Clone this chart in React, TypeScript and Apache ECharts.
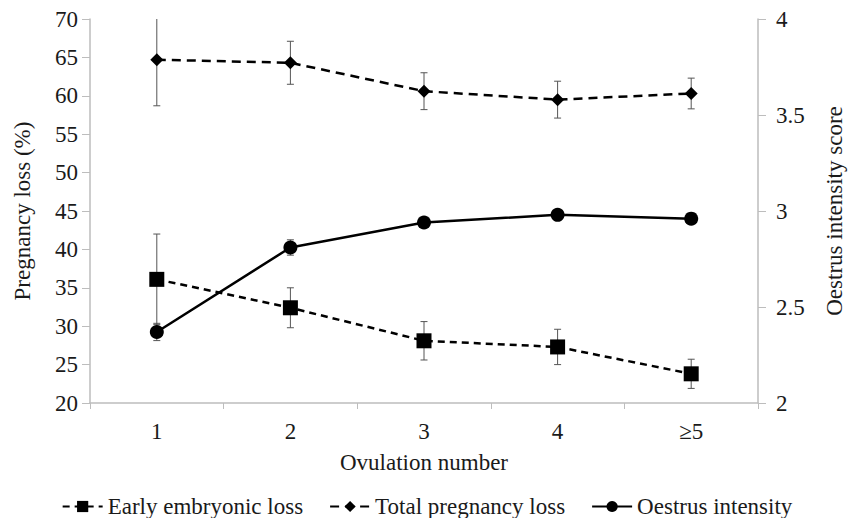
import React, { useEffect, useRef } from "react";
import * as echarts from "echarts";

const categories = ["1", "2", "3", "4", "≥5"];
const earlyLoss = [36.1, 32.4, 28.1, 27.3, 23.8];
const earlyLossErr = [5.9, 2.6, 2.5, 2.3, 1.9];
const totalLoss = [64.7, 64.3, 60.6, 59.5, 60.3];
const totalLossErr = [6.0, 2.8, 2.4, 2.4, 2.0];
const oestrus = [2.37, 2.81, 2.94, 2.98, 2.96];
const oestrusErr = [0.045, 0.04, 0.02, 0.025, 0.02];

const FONT = "Liberation Serif, Times New Roman, DejaVu Serif, serif";
const TEXT = "#1a1a1a";
const AXIS = "#bdbdbd";

function errData(vals: number[], errs: number[]) {
  return vals.map((v, i) => [i, v, errs[i]]);
}

function errRender(params: any, api: any) {
  const x = api.value(0);
  const v = api.value(1);
  const e = api.value(2);
  const top = api.coord([x, v + e]);
  const bot = api.coord([x, v - e]);
  const cap = 3.5;
  const st = { stroke: "#555", lineWidth: 1 };
  return {
    type: "group",
    children: [
      { type: "line", shape: { x1: top[0], y1: top[1], x2: bot[0], y2: bot[1] }, style: st },
      { type: "line", shape: { x1: top[0] - cap, y1: top[1], x2: top[0] + cap, y2: top[1] }, style: st },
      { type: "line", shape: { x1: bot[0] - cap, y1: bot[1], x2: bot[0] + cap, y2: bot[1] }, style: st },
    ],
  };
}

export default function App() {
  const ref = useRef<HTMLDivElement>(null);
  useEffect(() => {
    document.body.style.margin = "0";
    if (!ref.current) return;
    const chart = echarts.init(ref.current, null, { renderer: "svg" });
    const txt = (size: number) => ({ fontFamily: FONT, fontSize: size, color: TEXT });
    chart.setOption({
      animation: false,
      backgroundColor: "#ffffff",
      textStyle: { fontFamily: FONT, color: TEXT },
      grid: { left: 90, right: 85, top: 19, bottom: 115, containLabel: false },
      legend: {
        data: ["Early embryonic loss", "Total pregnancy loss", "Oestrus intensity"],
        left: "center",
        top: 490,
        itemWidth: 40,
        itemHeight: 14,
        itemGap: 26,
        textStyle: txt(23),
      },
      xAxis: {
        type: "category",
        data: categories,
        boundaryGap: true,
        name: "Ovulation number",
        nameLocation: "middle",
        nameGap: 48,
        nameTextStyle: txt(23),
        axisLine: { lineStyle: { color: AXIS, width: 1.5 } },
        axisTick: { show: true, length: 6, lineStyle: { color: AXIS } },
        axisLabel: { ...txt(23), margin: 17 },
        splitLine: { show: false },
      },
      yAxis: [
        {
          type: "value",
          min: 20,
          max: 70,
          interval: 5,
          position: "left",
          name: "Pregnancy loss (%)",
          nameLocation: "middle",
          nameRotate: 90,
          nameGap: 56,
          nameTextStyle: txt(23),
          axisLine: { show: true, lineStyle: { color: AXIS, width: 1.5 } },
          axisTick: { show: true, length: 8, lineStyle: { color: AXIS } },
          axisLabel: { ...txt(23), margin: 12 },
          splitLine: { show: false },
        },
        {
          type: "value",
          min: 2,
          max: 4,
          interval: 0.5,
          position: "right",
          name: "Oestrus intensity score",
          nameLocation: "middle",
          nameRotate: 90,
          nameGap: 65,
          nameTextStyle: txt(23),
          axisLine: { show: true, lineStyle: { color: AXIS, width: 1.5 } },
          axisTick: { show: true, length: 8, lineStyle: { color: AXIS } },
          axisLabel: { ...txt(23), margin: 18 },
          splitLine: { show: false },
        },
      ],
      series: [
        {
          name: "Early embryonic loss",
          type: "line",
          yAxisIndex: 0,
          data: earlyLoss,
          symbol: "rect",
          symbolSize: 15,
          z: 3,
          itemStyle: { color: "#000" },
          lineStyle: { color: "#000", width: 2.5, type: [7, 5] },
        },
        {
          name: "Total pregnancy loss",
          type: "line",
          yAxisIndex: 0,
          data: totalLoss,
          symbol: "diamond",
          symbolSize: 13,
          z: 3,
          itemStyle: { color: "#000" },
          lineStyle: { color: "#000", width: 2.5, type: [9, 6] },
        },
        {
          name: "Oestrus intensity",
          type: "line",
          yAxisIndex: 1,
          data: oestrus,
          symbol: "circle",
          symbolSize: 14,
          z: 3,
          itemStyle: { color: "#000" },
          lineStyle: { color: "#000", width: 2.5, type: "solid" },
        },
        {
          name: "err-early",
          type: "custom",
          yAxisIndex: 0,
          clip: true,
          z: 1,
          renderItem: errRender,
          data: errData(earlyLoss, earlyLossErr),
        },
        {
          name: "err-total",
          type: "custom",
          yAxisIndex: 0,
          clip: true,
          z: 1,
          renderItem: errRender,
          data: errData(totalLoss, totalLossErr),
        },
        {
          name: "err-oestrus",
          type: "custom",
          yAxisIndex: 1,
          clip: true,
          z: 1,
          renderItem: errRender,
          data: errData(oestrus, oestrusErr),
        },
      ],
    });
    return () => chart.dispose();
  }, []);
  return <div ref={ref} style={{ width: 854, height: 518 }} />;
}
